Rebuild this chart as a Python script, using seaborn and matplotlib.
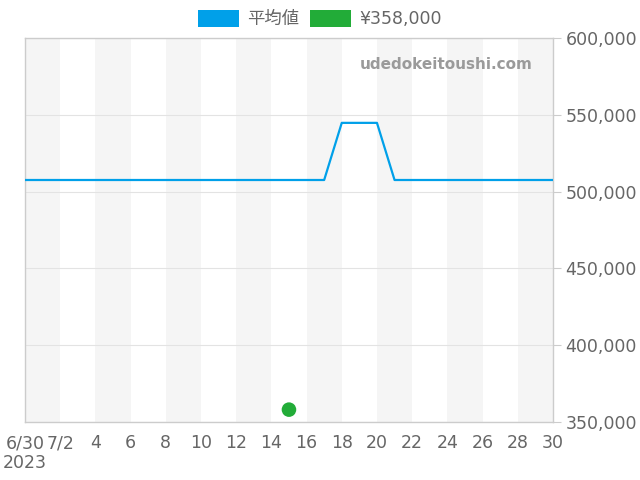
import numpy as np
import pandas as pd
import seaborn as sns
import matplotlib.pyplot as plt
from matplotlib.patches import Patch

# average price series (daily)
avg_dates = ["2023-06-30", "2023-07-17", "2023-07-18", "2023-07-20", "2023-07-21", "2023-07-30"]
avg_prices = [507500, 507500, 544700, 544700, 507500, 507500]

# single listing
point_dates = ["2023-07-15"]
point_prices = [358000]

tick_dates = pd.date_range("2023-06-30", "2023-07-30", freq="2D")
tick_labels = ["6/30\n2023", "7/2", "4", "6", "8", "10", "12", "14", "16",
               "18", "20", "22", "24", "26", "28", "30"]
y_ticks = [350000, 400000, 450000, 500000, 550000, 600000]

blue = "#00A0E9"
green = "#22AC38"
grey_txt = "#666666"

sns.set_style("white")
plt.rcParams['font.family'] = ['DejaVu Sans', 'Noto Sans CJK JP']

df_avg = pd.DataFrame({"date": pd.to_datetime(avg_dates), "price": avg_prices})
df_pt = pd.DataFrame({"date": pd.to_datetime(point_dates), "price": point_prices})

fig = plt.figure(figsize=(6.4, 4.8), dpi=100)
ax = fig.add_axes([0.039, 0.121, 0.825, 0.8])

# alternating background bands every 2 days
for i in range(0, len(tick_dates) - 1, 2):
    ax.axvspan(tick_dates[i], tick_dates[i + 1], color="#F5F5F5", lw=0, zorder=0)

for y in y_ticks:
    ax.axhline(y, color="#E3E3E3", lw=0.8, zorder=1)

sns.lineplot(data=df_avg, x="date", y="price", ax=ax, color=blue, lw=1.6, zorder=3)
sns.scatterplot(data=df_pt, x="date", y="price", ax=ax, color=green, s=110,
                edgecolor="none", zorder=4)

ax.set_xlim(tick_dates[0], tick_dates[-1])
ax.set_ylim(350000, 600000)
ax.set_xlabel("")
ax.set_ylabel("")

ax.set_xticks(tick_dates)
ax.set_xticklabels(tick_labels, fontsize=12.5, color=grey_txt, linespacing=1.1)

ax.yaxis.tick_right()
ax.set_yticks(y_ticks)
ax.set_yticklabels([f"{v:,}" for v in y_ticks], fontsize=12.5, color=grey_txt)
ax.tick_params(axis="x", length=6, color="#CCCCCC", pad=3)
ax.tick_params(axis="y", length=6, color="#CCCCCC", pad=3, right=True)

for sp in ax.spines.values():
    sp.set_color("#CCCCCC")
    sp.set_linewidth(1)

ax.text(0.962, 0.93, "udedokeitoushi.com", transform=ax.transAxes, ha="right",
        va="center", fontsize=11, fontweight="bold", color="#9A9A9A", zorder=5)

handles = [Patch(facecolor=blue, edgecolor="none", label="平均値"),
           Patch(facecolor=green, edgecolor="none", label="¥358,000")]
fig.legend(handles=handles, loc="upper center", bbox_to_anchor=(0.5, 1.012), ncol=2,
           frameon=False, fontsize=12.5, labelcolor=grey_txt, handlelength=2.35,
           handleheight=1.1, columnspacing=0.6, handletextpad=0.5)

fig.savefig("out.png", dpi=100)
